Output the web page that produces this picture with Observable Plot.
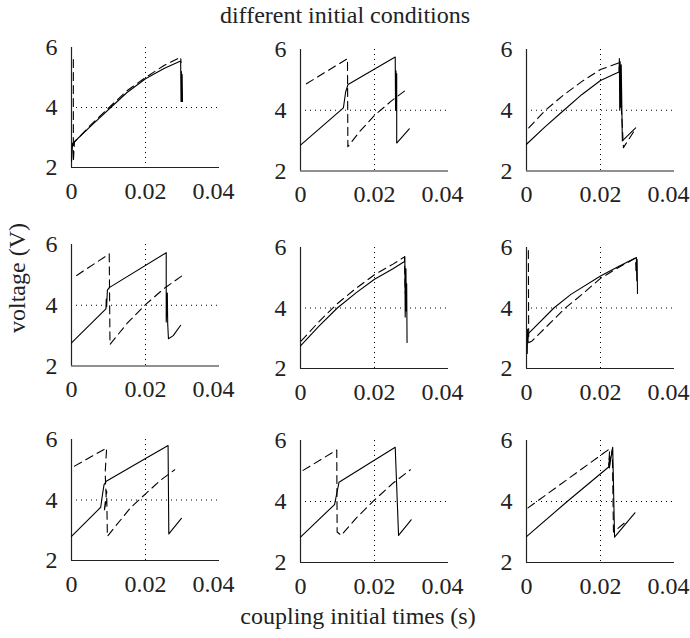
<!DOCTYPE html>
<html>
<head>
<meta charset="utf-8">
<script src="https://cdn.jsdelivr.net/npm/d3@7"></script>
<script src="https://cdn.jsdelivr.net/npm/@observablehq/plot@0.6"></script>
<style>
  html, body { margin: 0; padding: 0; background: #fff; }
  #fig { position: relative; width: 690px; height: 638px; background: #fff; overflow: hidden; color: #222; }
  .lbl { position: absolute; font-family: 'Liberation Serif'; font-size: 24px; line-height: 24px; white-space: nowrap; text-align: center; }
</style>
</head>
<body>
<div id="fig"></div>
<script>
// ---- data: [coupling time (s), voltage (V)] ----
const xTicksInner = [0, 0.02];
const xTicksOuter = [0.04];
const yTicks = [2, 4, 6];
const xTickLabels = {0: "0", 0.02: "0.02", 0.04: "0.04"};
const yTickLabels = {2: "2", 4: "4", 6: "6"};
const titleText = "different initial conditions";
const xLabelText = "coupling initial times (s)";
const yLabelText = "voltage (V)";

const solid1 = [[0,2.2],[0.0003,2.8],[0.0052,3.38],[0.0106,4.0],[0.015,4.5],[0.02,4.96],[0.025,5.3],[0.0295,5.55],
  [0.0296,4.2],[0.0297,5.2],[0.0298,4.2],[0.0299,5.1],[0.03,4.2]];
const dashed1 = [[0.0005,5.6],[0.0005,2.2],[0.0008,2.85],[0.0052,3.42],[0.0106,4.05],[0.015,4.56],[0.02,5.0],[0.025,5.4],[0.0295,5.68],[0.0296,5.5]];

const solid2 = [[0,2.85],[0.0116,4.08],[0.0122,4.6],[0.01285,4.85],[0.0256,5.75],[0.0257,4.0],[0.0258,5.3],[0.0259,4.0],[0.026,5.2],[0.026,2.92],[0.0294,3.39]];
const dashed2 = [[0.0016,4.87],[0.0127,5.7],[0.0128,2.8],[0.016,3.3],[0.02,3.83],[0.0245,4.3],[0.0283,4.65]];

const solid3 = [[0,2.88],[0.005,3.45],[0.0101,4.0],[0.015,4.52],[0.02,4.98],[0.0235,5.18],[0.025,5.26],
  [0.0251,5.7],[0.0252,4.0],[0.0253,5.6],[0.0255,4.1],[0.0256,5.5],[0.0259,2.99],[0.0295,3.42]];
const dashed3 = [[0.0006,3.42],[0.0051,4.0],[0.01,4.5],[0.015,4.95],[0.02,5.34],[0.025,5.56],[0.0262,2.77],[0.029,3.3]];

const solid4 = [[0,2.76],[0.0093,3.88],[0.0094,4.2],[0.0095,3.95],[0.0097,4.5],[0.0102,4.58],[0.0256,5.73],
  [0.0256,3.45],[0.0259,4.4],[0.026,3.4],[0.0262,2.9],[0.0275,3.0],[0.0295,3.34]];
const dashed4 = [[0.0014,4.98],[0.0102,5.69],[0.0104,2.71],[0.015,3.4],[0.02,4.02],[0.025,4.55],[0.03,4.98]];

const solid5 = [[0,2.75],[0.005,3.4],[0.00995,4.0],[0.015,4.5],[0.02,4.95],[0.025,5.3],[0.0281,5.54],
  [0.0282,5.7],[0.0283,3.7],[0.0285,5.3],[0.0286,3.9],[0.0287,4.8],[0.0288,2.86]];
const dashed5 = [[0.0002,2.91],[0.005,3.55],[0.01,4.15],[0.015,4.65],[0.02,5.1],[0.025,5.45],[0.0281,5.69],[0.0283,4.5]];

const solid6 = [[0.0002,2.5],[0.0003,3.3],[0.0004,2.9],[0.0005,3.15],[0.0074,4.0],[0.012,4.45],[0.02,5.06],[0.025,5.38],[0.0297,5.67],
  [0.0298,4.9],[0.0299,5.6],[0.03,4.48]];
const dashed6 = [[0.0005,5.9],[0.0006,2.85],[0.0015,2.91],[0.0105,4.0],[0.015,4.45],[0.02,4.98],[0.025,5.35],[0.0295,5.65],[0.0296,5.1]];

const solid7 = [[0,2.8],[0.0079,3.76],[0.0084,4.2],[0.0088,4.51],[0.0094,4.62],[0.02,5.37],[0.024,5.65],[0.0261,5.8],[0.0263,2.88],[0.0297,3.39]];
const dashed7 = [[0.0008,5.12],[0.0095,5.72],[0.0091,4.9],[0.0094,4.0],[0.0088,3.6],[0.0095,4.3],[0.0097,2.8],
  [0.012,3.15],[0.016,3.75],[0.02,4.2],[0.024,4.65],[0.0279,5.0]];

const solid8 = [[0,2.83],[0.0092,3.9],[0.0104,4.63],[0.0256,5.78],[0.0265,2.89],[0.0299,3.4]];
const dashed8 = [[0.0007,5.02],[0.0098,5.69],[0.0099,3.0],[0.011,2.89],[0.015,3.45],[0.02,4.05],[0.025,4.6],[0.0297,5.04]];

const solid9 = [[0,2.85],[0.011,4.0],[0.0222,5.13],[0.0225,5.5],[0.0224,5.1],[0.0233,5.78],[0.0238,2.83],[0.0293,3.63]];
const dashed9 = [[0.0004,3.79],[0.0225,5.73],[0.0222,5.2],[0.0232,5.7],[0.0235,3.0],[0.0265,3.3]];

const solidSeries = [solid1, solid2, solid3, solid4, solid5, solid6, solid7, solid8, solid9];
const dashedSeries = [dashed1, dashed2, dashed3, dashed4, dashed5, dashed6, dashed7, dashed8, dashed9];

// ---- layout (pixel positions of each panel's frame) ----
const panelLayout = [
  {left: 71, top: 47, bottom: 167},
  {left: 300, top: 48.5, bottom: 170},
  {left: 526, top: 48.5, bottom: 170},
  {left: 71, top: 244, bottom: 365.5},
  {left: 300, top: 246.5, bottom: 367.5},
  {left: 526, top: 246.5, bottom: 367.5},
  {left: 71, top: 438.5, bottom: 559.5},
  {left: 300, top: 440, bottom: 562},
  {left: 526, top: 440, bottom: 562}
];
const frameW = 148, mL = 60, mR = 30, mT = 15, mB = 45;

const fig = document.getElementById("fig");
const xFmt = d => xTickLabels[d];
const yFmt = d => yTickLabels[d];

panelLayout.forEach((p, i) => {
  const h = p.bottom - p.top;
  const svg = Plot.plot({
    width: mL + frameW + mR,
    height: mT + h + mB,
    marginLeft: mL, marginRight: mR, marginTop: mT, marginBottom: mB,
    style: {fontFamily: "Liberation Serif", fontSize: "24px", background: "transparent"},
    x: {domain: [0, 0.04]},
    y: {domain: [2, 6]},
    marks: [
      Plot.ruleY([4], {stroke: "#000", strokeWidth: 1, strokeDasharray: "1,4"}),
      Plot.ruleX([0.02], {stroke: "#000", strokeWidth: 1, strokeDasharray: "1,4"}),
      Plot.ruleX([0], {stroke: "#222", strokeWidth: 1.2}),
      Plot.ruleY([2], {stroke: "#222", strokeWidth: 1.2}),
      Plot.line(solidSeries[i], {x: d => d[0], y: d => d[1], stroke: "#000", strokeWidth: 1.1}),
      Plot.line(dashedSeries[i], {x: d => d[0], y: d => d[1], stroke: "#000", strokeWidth: 1.1, strokeDasharray: "8,5"}),
      Plot.axisX({ticks: xTicksInner, tickFormat: xFmt, tickSize: 0, tickPadding: 14, label: null, fontFamily: "Liberation Serif", fontSize: 24}),
      Plot.axisX({ticks: xTicksOuter, tickFormat: xFmt, tickSize: 0, tickPadding: 14, label: null, dx: -6, fontFamily: "Liberation Serif", fontSize: 24}),
      Plot.axisY({ticks: yTicks, tickFormat: yFmt, tickSize: 0, tickPadding: 14, label: null, fontFamily: "Liberation Serif", fontSize: 24})
    ]
  });
  svg.style.position = "absolute";
  svg.style.left = (p.left - mL) + "px";
  svg.style.top = (p.top - mT) + "px";
  svg.style.maxWidth = "none";
  svg.style.overflow = "visible";
  fig.appendChild(svg);
});

function addLabel(text, css) {
  const d = document.createElement("div");
  d.className = "lbl";
  d.textContent = text;
  Object.assign(d.style, css);
  fig.appendChild(d);
}
addLabel(titleText, {left: "0px", width: "690px", top: "3px"});
addLabel(xLabelText, {left: "0px", width: "716px", top: "604px"});
addLabel(yLabelText, {left: (17 - 100) + "px", width: "200px", top: (278 - 12) + "px", transform: "rotate(-90deg)"});
</script>
</body>
</html>
